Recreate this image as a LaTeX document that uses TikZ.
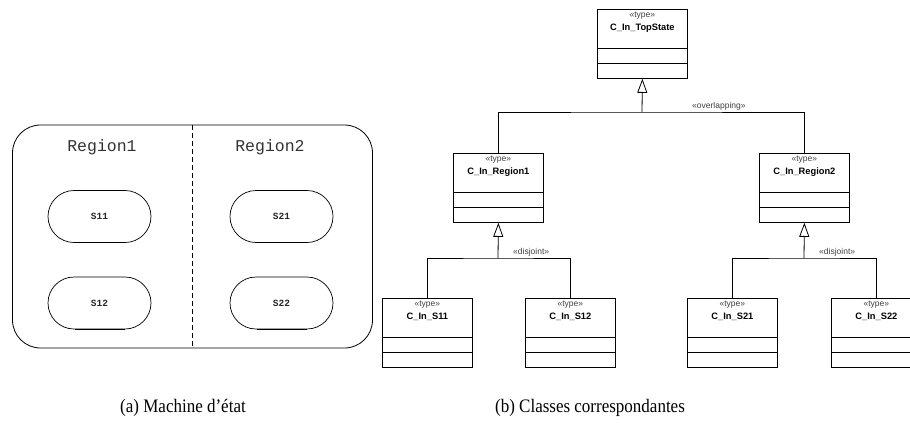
\documentclass[tikz,border=0pt]{standalone}
\usepackage{fontspec}
\setmainfont{Liberation Serif}
\newfontfamily\courfont{Liberation Mono}
\newfontfamily\arialfont{Liberation Sans}
\usetikzlibrary{arrows.meta,calc}
\tikzset{
  cls/.style={draw,line width=0.8pt,rectangle,anchor=north west,minimum width=90pt,minimum height=69pt,inner sep=0pt},
  pill/.style={draw,line width=0.7pt,rectangle,rounded corners=26pt,minimum width=103pt,minimum height=52pt,font=\courfont\bfseries\fontsize{9.5}{11}\selectfont,text=black!85},
  regionlbl/.style={font=\courfont\fontsize{16.5}{18}\selectfont,text=black!80},
  stereo/.style={font=\arialfont\fontsize{8.5}{10}\selectfont,text=black!75,inner sep=0pt},
  clsname/.style={font=\arialfont\bfseries\fontsize{9.3}{11}\selectfont,inner sep=0pt},
  conn/.style={line width=0.8pt},
  genarrow/.style={conn,-{Triangle[open,length=14pt,width=10pt]}},
  caption/.style={font=\fontsize{17}{20}\selectfont,yscale=1.12,transform shape}
}
\newcommand\umlclass[4]{%
  \node[cls] (#1) at (#2,#3) {};
  \draw[line width=0.8pt] ($(#1.north west)+(0pt,-39pt)$) -- ($(#1.north east)+(0pt,-39pt)$);
  \draw[line width=0.8pt] ($(#1.north west)+(0pt,-54pt)$) -- ($(#1.north east)+(0pt,-54pt)$);
  \node[stereo] at ($(#1.north)+(0pt,-7pt)$) {«type»};
  \node[clsname] at ($(#1.north)+(0pt,-19pt)$) {#4};
}
\begin{document}
\begin{tikzpicture}[x=1pt,y=-1pt]
\useasboundingbox (0,0) rectangle (910,431);
% ---- (a) state machine
\draw[line width=0.8pt,rounded corners=28pt] (12.5,125) rectangle (372.5,348);
\coordinate (dtop) at (192,125);
\coordinate (dbot) at (192,348);
\draw[line width=0.7pt,dash pattern=on 5pt off 3pt] (dtop) -- (dbot);
\node[regionlbl] (reg1) at (102,147) {Region1};
\node[regionlbl] (reg2) at (270,147) {Region2};
\node[pill] (s11) at (99.5,216.5) {S11};
\node[pill] (s12) at (99.5,303) {S12};
\node[pill] (s21) at (281.5,216.5) {S21};
\node[pill] (s22) at (281.5,303) {S22};
\foreach \p in {s11,s12,s21,s22}{
  \draw[line width=1.1pt] ([xshift=-25pt]\p.south) -- ([xshift=25pt]\p.south);
}
% ---- (b) classes
\umlclass{top}{597}{9}{C\_In\_TopState}
\umlclass{r1}{453}{153}{C\_In\_Region1}
\umlclass{r2}{759}{153}{C\_In\_Region2}
\umlclass{c11}{382}{298}{C\_In\_S11}
\umlclass{c12}{525}{298}{C\_In\_S12}
\umlclass{c21}{687}{298}{C\_In\_S21}
\umlclass{c22}{831}{298}{C\_In\_S22}
\coordinate (j0) at (642,112);
\coordinate (j1) at (498,258);
\coordinate (j2) at (804,258);
\draw[conn] (r1.north) |- (j0) -| (r2.north);
\draw[genarrow] (j0) -- (top.south);
\draw[conn] (c11.north) |- (j1) -| (c12.north);
\draw[genarrow] (j1) -- (r1.south);
\draw[conn] (c21.north) |- (j2) -| (c22.north);
\draw[genarrow] (j2) -- (r2.south);
\node[stereo,anchor=south west] (ov) at (692,110) {«overlapping»};
\node[stereo,anchor=south west] (dj1) at (513,256) {«disjoint»};
\node[stereo,anchor=south west] (dj2) at (819,256) {«disjoint»};
% ---- captions
\node[caption] (capa) at (183,408) {(a) Machine d’état};
\node[caption] (capb) at (590,408) {(b) Classes correspondantes};
\end{tikzpicture}
\end{document}
